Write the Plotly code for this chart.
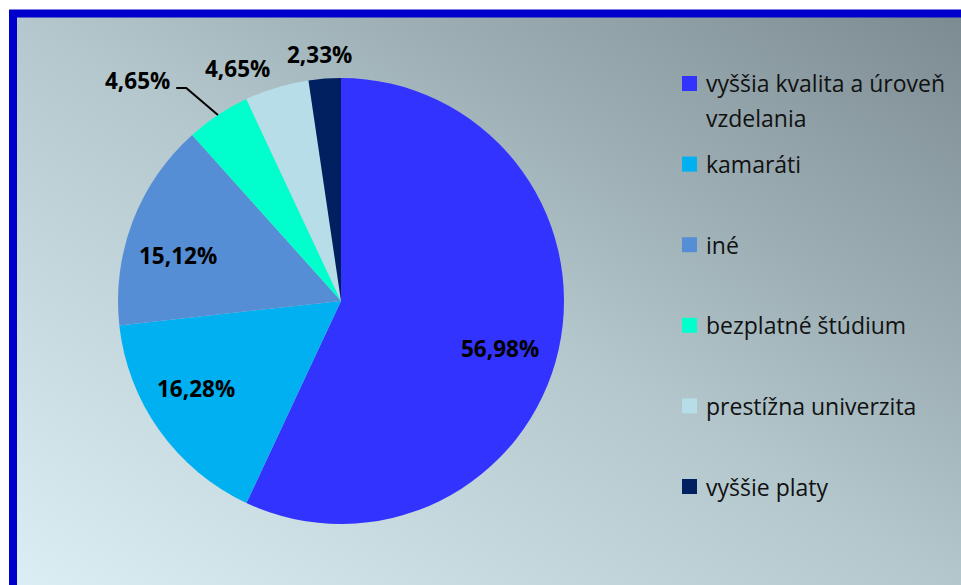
import base64
import math
import textwrap
import plotly.graph_objects as go

# ---------------- data ----------------
categories = [
    "vyššia kvalita a úroveň vzdelania",
    "kamaráti",
    "iné",
    "bezplatné štúdium",
    "prestížna univerzita",
    "vyššie platy",
]
values = [56.98, 16.28, 15.12, 4.65, 4.65, 2.33]

# ---------------- styles ----------------
colors = ["#3333FF", "#00B0F0", "#558ED5", "#00FFCC", "#B7DEE8", "#002060"]
label_radius = [0.745, 0.76, 0.76, 1.345, 1.14, 1.108]   # relative to pie radius
label_angle_shift = [4.2, 4.5, -5.5, -9.3, -7.2, -0.7]   # degrees
leader_for = [False, False, False, True, False, False]

W, H = 961, 585
OFF = 0                             # page offset of the figure (body margin removed)
CX, CY, R = 341, 301, 223          # pie centre / radius in screen pixels
FONT = "Open Sans"


def fx(px):
    return (px - OFF) / W


def fy(py):
    return 1 - (py - OFF) / H


def fmt(v):
    return f"{v:.2f}".replace(".", ",") + "%"


fig = go.Figure()
fig.add_trace(go.Pie(
    labels=categories,
    values=values,
    sort=False,
    direction="clockwise",
    rotation=0,
    marker=dict(colors=colors, line=dict(width=0)),
    textinfo="none",
    hoverinfo="label+percent",
    showlegend=False,
    domain=dict(x=[fx(CX - R), fx(CX + R)], y=[fy(CY + R), fy(CY - R)]),
))

annotations = []
shapes = []

# data labels, positioned from the slice angles
total = sum(values)
cum = 0.0
for i, v in enumerate(values):
    start = cum / total * 360
    cum += v
    end = cum / total * 360
    mid = (start + end) / 2
    ang = math.radians(mid + label_angle_shift[i])
    lx = CX + R * label_radius[i] * math.sin(ang)
    ly = CY - R * label_radius[i] * math.cos(ang)
    annotations.append(dict(
        x=fx(lx), y=fy(ly), xref="paper", yref="paper", showarrow=False,
        text=f"<b>{fmt(v)}</b>", xanchor="center", yanchor="middle",
        font=dict(family=FONT, size=22.5, color="#000000"),
    ))
    if leader_for[i]:
        m = math.radians(mid)
        ex = CX + R * math.sin(m)
        ey = CY - R * math.cos(m)
        sx = lx + 39
        sy = ly + 7
        kx = sx + 10
        shapes.append(dict(
            type="path", xref="paper", yref="paper",
            path=f"M {fx(sx)} {fy(sy)} L {fx(kx)} {fy(sy)} L {fx(ex)} {fy(ey)}",
            line=dict(color="#000000", width=2),
        ))

# manual legend
LEG_X, LEG_Y0, LEG_DY, LINE_DY, SQ = 682, 83.5, 80.6, 35, 15
for i, name in enumerate(categories):
    yc = LEG_Y0 + i * LEG_DY
    shapes.append(dict(
        type="rect", xref="paper", yref="paper",
        x0=fx(LEG_X), x1=fx(LEG_X + SQ), y0=fy(yc - SQ / 2), y1=fy(yc + SQ / 2),
        fillcolor=colors[i], line=dict(width=0),
    ))
    for j, line in enumerate(textwrap.wrap(name, 24)):
        annotations.append(dict(
            x=fx(LEG_X + SQ + 7), y=fy(yc + j * LINE_DY), xref="paper", yref="paper",
            showarrow=False, text=line, xanchor="left", yanchor="middle",
            font=dict(family=FONT, size=23, color="#111111"),
        ))

# outer frame
shapes.append(dict(
    type="rect", xref="paper", yref="paper",
    x0=fx(13), y0=fy(13.5), x1=fx(W + 30), y1=fy(H + 30),
    line=dict(color="#0000CC", width=8), fillcolor="rgba(0,0,0,0)", layer="above",
))

# gradient background (bottom-left light blue -> top-right grey)
svg = (
    '<svg xmlns="http://www.w3.org/2000/svg" width="100" height="100" preserveAspectRatio="none">'
    '<defs><linearGradient id="g" x1="0" y1="1" x2="1" y2="0">'
    '<stop offset="0" stop-color="#DCEFF5"/>'
    '<stop offset="0.5" stop-color="#B3C7CD"/>'
    '<stop offset="1" stop-color="#7B8A90"/>'
    '</linearGradient></defs>'
    '<rect width="100" height="100" fill="url(#g)"/></svg>'
)
src = "data:image/svg+xml;base64," + base64.b64encode(svg.encode()).decode()

fig.update_layout(
    width=W, height=H,
    margin=dict(l=0, r=0, t=0, b=0),
    paper_bgcolor="#FFFFFF",
    plot_bgcolor="rgba(0,0,0,0)",
    annotations=annotations,
    shapes=shapes,
    images=[dict(
        source=src, xref="paper", yref="paper",
        x=fx(9), y=fy(10), sizex=1.0, sizey=1.0,
        xanchor="left", yanchor="top", sizing="stretch", layer="below",
    )],
    showlegend=False,
)

fig.write_html(
    "out.html",
    config={"displayModeBar": False},
    post_script="document.body.style.margin='0';document.body.style.overflow='hidden';",
)
